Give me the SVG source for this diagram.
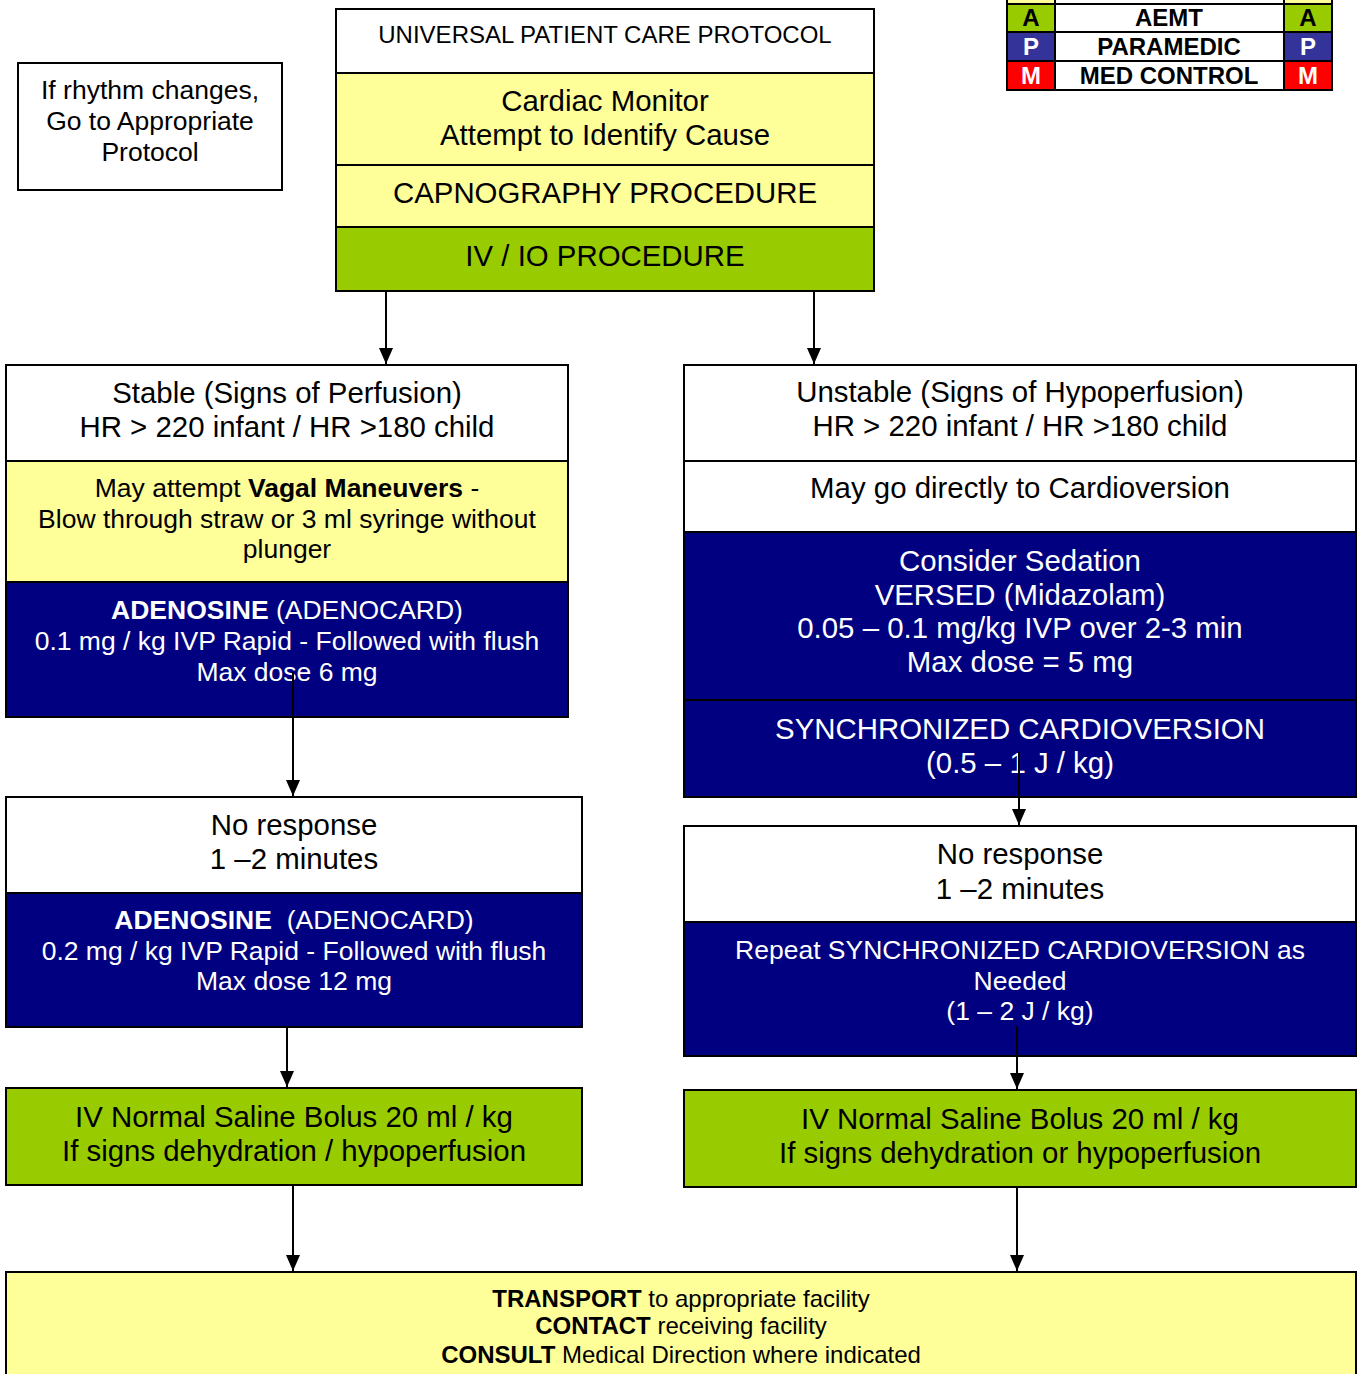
<svg xmlns="http://www.w3.org/2000/svg" width="1361" height="1374" viewBox="0 0 1361 1374">
<style>
.box{stroke:#000;stroke-width:2}
.w{fill:#fff}.y{fill:#FFFF99}.g{fill:#99CC00}.n{fill:#000080}.b{fill:#333399}.r{fill:#FF0000}
text{font-family:"Liberation Sans",Arial,sans-serif;text-anchor:middle;fill:#000}
.t27{font-size:29.4px}.t24{font-size:26.5px}.t22{font-size:24px}
.wt{fill:#fff}
.bd{font-weight:bold}
.conn{stroke:#000;stroke-width:2;fill:none;marker-end:url(#ah)}
</style>
<defs>
<marker id="ah" markerUnits="userSpaceOnUse" markerWidth="16" markerHeight="14" refX="16" refY="7" orient="auto" viewBox="0 0 16 14">
<path d="M0,0 L16,7 L0,14 Z" fill="#000"/>
</marker>
</defs>
<rect width="1361" height="1374" fill="#fff"/>

<g id="legend">
<rect class="box y" x="1007" y="-10" width="48" height="14"/>
<rect class="box w" x="1055" y="-10" width="229" height="14"/>
<rect class="box y" x="1284" y="-10" width="48" height="14"/>
<rect class="box g" x="1007" y="4" width="48" height="28"/>
<rect class="box w" x="1055" y="4" width="229" height="28"/>
<rect class="box g" x="1284" y="4" width="48" height="28"/>
<rect class="box b" x="1007" y="32" width="48" height="29"/>
<rect class="box w" x="1055" y="32" width="229" height="29"/>
<rect class="box b" x="1284" y="32" width="48" height="29"/>
<rect class="box r" x="1007" y="61" width="48" height="29"/>
<rect class="box w" x="1055" y="61" width="229" height="29"/>
<rect class="box r" x="1284" y="61" width="48" height="29"/>
<text class="t22 bd" x="1031" y="26">A</text>
<text class="t22 bd" x="1169" y="26">AEMT</text>
<text class="t22 bd" x="1308" y="26">A</text>
<text class="t22 bd wt" x="1031" y="55">P</text>
<text class="t22 bd" x="1169" y="55">PARAMEDIC</text>
<text class="t22 bd wt" x="1308" y="55">P</text>
<text class="t22 bd wt" x="1031" y="84">M</text>
<text class="t22 bd" x="1169" y="84">MED CONTROL</text>
<text class="t22 bd wt" x="1308" y="84">M</text>
</g>

<g id="note">
<rect class="box w" x="18" y="63" width="264" height="127"/>
<text class="t24" x="150" y="99">If rhythm changes,</text>
<text class="t24" x="150" y="130">Go to Appropriate</text>
<text class="t24" x="150" y="161">Protocol</text>
</g>

<g id="top">
<rect class="box w" x="336" y="9" width="538" height="64"/>
<rect class="box y" x="336" y="73" width="538" height="92"/>
<rect class="box y" x="336" y="165" width="538" height="62"/>
<rect class="box g" x="336" y="227" width="538" height="64"/>
<text class="t22" x="605" y="43">UNIVERSAL PATIENT CARE PROTOCOL</text>
<text class="t27" x="605" y="111">Cardiac Monitor</text>
<text class="t27" x="605" y="145">Attempt to Identify Cause</text>
<text class="t27" x="605" y="203">CAPNOGRAPHY PROCEDURE</text>
<text class="t27" x="605" y="266">IV / IO PROCEDURE</text>
</g>

<g id="stable">
<rect class="box w" x="6" y="365" width="562" height="96"/>
<rect class="box y" x="6" y="461" width="562" height="121"/>
<rect class="box n" x="6" y="582" width="562" height="135"/>
<text class="t27" x="287" y="403">Stable (Signs of Perfusion)</text>
<text class="t27" x="287" y="437">HR &gt; 220 infant / HR &gt;180 child</text>
<text class="t24" x="287" y="497">May attempt <tspan class="bd">Vagal Maneuvers</tspan> -</text>
<text class="t24" x="287" y="528">Blow through straw or 3 ml syringe without</text>
<text class="t24" x="287" y="558">plunger</text>
<text class="t24 wt" x="287" y="619"><tspan class="bd">ADENOSINE</tspan> (ADENOCARD)</text>
<text class="t24 wt" x="287" y="650">0.1 mg / kg IVP Rapid - Followed with flush</text>
<text class="t24 wt" x="287" y="681">Max dose 6 mg</text>
</g>

<g id="unstable">
<rect class="box w" x="684" y="365" width="672" height="96"/>
<rect class="box w" x="684" y="461" width="672" height="71"/>
<rect class="box n" x="684" y="532" width="672" height="168"/>
<rect class="box n" x="684" y="700" width="672" height="97"/>
<text class="t27" x="1020" y="402">Unstable (Signs of Hypoperfusion)</text>
<text class="t27" x="1020" y="436">HR &gt; 220 infant / HR &gt;180 child</text>
<text class="t27" x="1020" y="498">May go directly to Cardioversion</text>
<text class="t27 wt" x="1020" y="571">Consider Sedation</text>
<text class="t27 wt" x="1020" y="605">VERSED (Midazolam)</text>
<text class="t27 wt" x="1020" y="638">0.05 – 0.1 mg/kg IVP over 2-3 min</text>
<text class="t27 wt" x="1020" y="672">Max dose = 5 mg</text>
<text class="t27 wt" x="1020" y="739">SYNCHRONIZED CARDIOVERSION</text>
<text class="t27 wt" x="1020" y="773">(0.5 – 1 J / kg)</text>
</g>

<g id="noresp-left">
<rect class="box w" x="6" y="797" width="576" height="96"/>
<rect class="box n" x="6" y="893" width="576" height="134"/>
<text class="t27" x="294" y="835">No response</text>
<text class="t27" x="294" y="869">1 –2 minutes</text>
<text class="t24 wt" x="294" y="929"><tspan class="bd">ADENOSINE</tspan>&#160; (ADENOCARD)</text>
<text class="t24 wt" x="294" y="960">0.2 mg / kg IVP Rapid - Followed with flush</text>
<text class="t24 wt" x="294" y="990">Max dose 12 mg</text>
</g>

<g id="noresp-right">
<rect class="box w" x="684" y="826" width="672" height="96"/>
<rect class="box n" x="684" y="922" width="672" height="134"/>
<text class="t27" x="1020" y="864">No response</text>
<text class="t27" x="1020" y="899">1 –2 minutes</text>
<text class="t24 wt" x="1020" y="959">Repeat SYNCHRONIZED CARDIOVERSION as</text>
<text class="t24 wt" x="1020" y="990">Needed</text>
<text class="t24 wt" x="1020" y="1020">(1 – 2 J / kg)</text>
</g>

<g id="saline-left">
<rect class="box g" x="6" y="1088" width="576" height="97"/>
<text class="t27" x="294" y="1127">IV Normal Saline Bolus 20 ml / kg</text>
<text class="t27" x="294" y="1161">If signs dehydration / hypoperfusion</text>
</g>

<g id="saline-right">
<rect class="box g" x="684" y="1090" width="672" height="97"/>
<text class="t27" x="1020" y="1129">IV Normal Saline Bolus 20 ml / kg</text>
<text class="t27" x="1020" y="1163">If signs dehydration or hypoperfusion</text>
</g>

<g id="transport">
<rect class="box y" x="6" y="1272" width="1350" height="112"/>
<text class="t22" x="681" y="1307"><tspan class="bd">TRANSPORT</tspan> to appropriate facility</text>
<text class="t22" x="681" y="1334"><tspan class="bd">CONTACT</tspan> receiving facility</text>
<text class="t22" x="681" y="1363"><tspan class="bd">CONSULT</tspan> Medical Direction where indicated</text>
</g>

<g id="connectors">
<line class="conn" x1="386" y1="292" x2="386" y2="364"/>
<line class="conn" x1="814" y1="292" x2="814" y2="364"/>
<line class="conn" x1="293" y1="672" x2="293" y2="796"/>
<line class="conn" x1="1019" y1="752" x2="1019" y2="825"/>
<line class="conn" x1="287" y1="1028" x2="287" y2="1087"/>
<line class="conn" x1="1017" y1="1026" x2="1017" y2="1089"/>
<line class="conn" x1="293" y1="1186" x2="293" y2="1271"/>
<line class="conn" x1="1017" y1="1188" x2="1017" y2="1271"/>
</g>
</svg>
